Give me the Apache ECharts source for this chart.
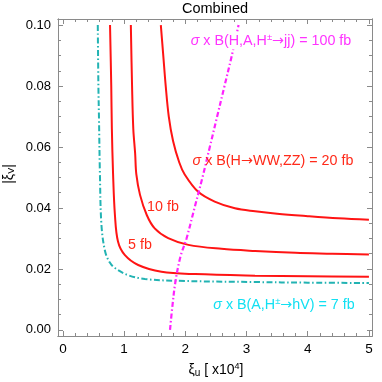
<!DOCTYPE html>
<html><head><meta charset="utf-8">
<script src="https://cdn.jsdelivr.net/npm/echarts@6/dist/echarts.min.js"></script>
<style>html,body{margin:0;padding:0;background:#fff}#c{width:382px;height:382px}</style>
</head><body><div id="c"></div>
<script>
// ---- data (xi_u in units of 1e4, |xi_V|) ----
const xTickVals = [0, 1, 2, 3, 4, 5];
const xMinorVals = [0.2,0.4,0.6,0.8,1.2,1.4,1.6,1.8,2.2,2.4,2.6,2.8,3.2,3.4,3.6,3.8,4.2,4.4,4.6,4.8];
const yTickVals = [0, 0.02, 0.04, 0.06, 0.08, 0.10];
const yMinorVals = [0.005,0.01,0.015,0.025,0.03,0.035,0.045,0.05,0.055,0.065,0.07,0.075,0.085,0.09,0.095];

const ww20 = [[1.60,0.100],[1.64,0.090],[1.68,0.080],[1.73,0.070],[1.80,0.062],[1.90,0.055],[1.99,0.051],[2.21,0.0453],[2.48,0.0421],[2.81,0.0399],[3.14,0.0389],[3.5,0.0381],[4.0,0.0373],[4.5,0.0366],[5.0,0.0361]];
const ww10 = [[1.11,0.100],[1.13,0.080],[1.15,0.066],[1.18,0.058],[1.20,0.051],[1.26,0.0443],[1.37,0.0377],[1.50,0.0333],[1.72,0.0301],[2.05,0.0279],[2.59,0.0266],[3.14,0.0259],[3.8,0.0253],[4.4,0.0250],[5.0,0.0247]];
const ww5 = [[0.77,0.100],[0.79,0.080],[0.80,0.066],[0.82,0.051],[0.85,0.0377],[0.90,0.0290],[1.01,0.0246],[1.23,0.0213],[1.61,0.0191],[2.16,0.0183],[3.14,0.0178],[4.0,0.0176],[5.0,0.0174]];
const hv7 = [[0.57,0.100],[0.58,0.080],[0.59,0.069],[0.605,0.051],[0.63,0.0344],[0.69,0.0257],[0.77,0.022],[0.85,0.0203],[1.06,0.0180],[1.34,0.0167],[1.88,0.0161],[3.14,0.0157],[4.0,0.0155],[5.0,0.0154]];
const jj100 = [[1.75,0.0],[1.79,0.008],[1.84,0.016],[1.92,0.024],[2.02,0.030],[2.15,0.040],[2.28,0.050],[2.40,0.060],[2.52,0.070],[2.64,0.080],[2.76,0.090],[2.87,0.100]];

const FONT = '"Liberation Sans", Arial, sans-serif';
const FRAME = '#8a8a8a';
const XMIN = -0.08, XMAX = 5.05, YMIN = -0.002, YMAX = 0.102;
const LFS = 14.3;

function xAx(pos, vals, len, labels) {
  return {
    type: 'value', position: pos, min: XMIN, max: XMAX,
    axisLine: {show: true, onZero: false, lineStyle: {color: FRAME, width: 1}},
    axisTick: {show: true, inside: true, length: len, customValues: vals, lineStyle: {color: FRAME}},
    axisLabel: labels ? {show: true, customValues: vals, color: '#000', fontSize: 13.5, fontFamily: FONT, margin: 6,
      formatter: v => String(Math.round(v))} : {show: false},
    splitLine: {show: false}
  };
}
function yAx(pos, vals, len, labels) {
  return {
    type: 'value', position: pos, min: YMIN, max: YMAX,
    axisLine: {show: true, onZero: false, lineStyle: {color: FRAME, width: 1}},
    axisTick: {show: true, inside: true, length: len, customValues: vals, lineStyle: {color: FRAME}},
    axisLabel: labels ? {show: true, customValues: vals, color: '#000', fontSize: 13, fontFamily: FONT, margin: 7,
      formatter: v => v.toFixed(2)} : {show: false},
    splitLine: {show: false}
  };
}
function line(data, color, width, dash, z) {
  return {type: 'line', data: data, xAxisIndex: 0, yAxisIndex: 0, showSymbol: false, smooth: 0.35,
    z: z || 2, silent: true,
    lineStyle: {color: color, width: width, type: dash || 'solid'}};
}

const chart = echarts.init(document.getElementById('c'), null, {renderer: 'canvas'});
const rich = {
  it: {fontStyle: 'italic', fontSize: LFS, fontFamily: FONT},
  n: {fontSize: LFS, fontFamily: FONT},
  ar: {fontSize: LFS, fontFamily: '"DejaVu Sans", sans-serif'},
  sup: {fontSize: 9.5, fontFamily: FONT, verticalAlign: 'top', padding: [0, 0, 7, 0]}
};
function richFor(color) {
  const r = {};
  for (const k in rich) r[k] = Object.assign({}, rich[k], {fill: color});
  return r;
}
chart.setOption({
  animation: false,
  grid: {left: 58, right: 10, top: 19, bottom: 46, containLabel: false},
  xAxis: [xAx('bottom', xTickVals, 5, true), xAx('bottom', xMinorVals, 3, false),
          xAx('top', xTickVals, 5, false), xAx('top', xMinorVals, 3, false)],
  yAxis: [yAx('left', yTickVals, 5, true), yAx('left', yMinorVals, 3, false),
          yAx('right', yTickVals, 5, false), yAx('right', yMinorVals, 3, false)],
  series: [
    line(hv7, '#22b3b3', 2, [6, 2.5, 1.5, 2.5]),
    line(ww5, '#ff1414', 2),
    line(ww10, '#ff1414', 2),
    line(ww20, '#ff1414', 2),
    line(jj100, '#ff22ff', 2.2, [5, 2.5, 1.5, 2.5], 3)
  ],
  graphic: [
    {type: 'text', x: 215, y: 9, z: 10, style: {text: 'Combined', fontSize: 14.5, fontFamily: FONT, fill: '#000', align: 'center', verticalAlign: 'middle'}},
    {type: 'text', x: 216, y: 370, z: 10, style: {
      text: '{n|ξ}{sub|u}{n| [ x10}{sup|4}{n|]}', align: 'center', verticalAlign: 'middle',
      rich: {n: {fontSize: 14, fontFamily: FONT, fill: '#000'}, sub: {fontSize: 10, fontFamily: FONT, fill: '#000', verticalAlign: 'bottom', padding: [6, 0, 0, 0]}, sup: {fontSize: 9, fontFamily: FONT, fill: '#000', verticalAlign: 'top', padding: [0, 0, 6, 0]}}}},
    {type: 'text', x: 9, y: 174, rotation: Math.PI / 2, z: 10, style: {
      text: '{n||ξ}{sub|V}{n||}', align: 'center', verticalAlign: 'middle',
      rich: {n: {fontSize: 14, fontFamily: FONT, fill: '#000'}, sub: {fontSize: 9, fontFamily: FONT, fill: '#000', verticalAlign: 'bottom', padding: [6, 0, 0, 0]}}}},
    {type: 'text', x: 271, y: 41, z: 20, style: {
      text: '{it|σ}{n| x B(H,A,H}{sup|±}{ar|→}{n|jj) = 100 fb}', align: 'center', verticalAlign: 'middle',
      backgroundColor: '#fff', padding: [0, 1], rich: richFor('#ff33ff')}},
    {type: 'text', x: 273, y: 161, z: 20, style: {
      text: '{it|σ}{n| x B(H}{ar|→}{n|WW,ZZ) = 20 fb}', align: 'center', verticalAlign: 'middle', rich: richFor('#ff2a1a')}},
    {type: 'text', x: 284, y: 305, z: 20, style: {
      text: '{it|σ}{n| x B(A,H}{sup|±}{ar|→}{n|hV) = 7 fb}', align: 'center', verticalAlign: 'middle', rich: richFor('#12e0f2')}},
    {type: 'text', x: 163, y: 207, z: 20, style: {text: '10 fb', fontSize: LFS, fontFamily: FONT, fill: '#ff2a1a', align: 'center', verticalAlign: 'middle'}},
    {type: 'text', x: 140, y: 245, z: 20, style: {text: '5 fb', fontSize: LFS, fontFamily: FONT, fill: '#ff2a1a', align: 'center', verticalAlign: 'middle'}}
  ]
});
</script></body></html>
